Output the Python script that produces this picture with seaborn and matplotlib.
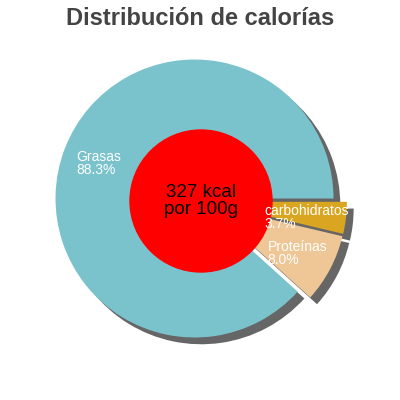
import matplotlib
matplotlib.use("Agg")
import matplotlib.pyplot as plt
import seaborn as sns
from matplotlib.patches import Shadow

sns.set_theme(style="white")
plt.rcParams['font.family'] = ['Liberation Sans', 'DejaVu Sans']

# datos
nutrientes = ["carbohidratos", "Proteínas", "Grasas"]
porcentajes = [3.7, 8.0, 88.3]
colores = ["#DAA520", "#EFC695", "#7AC3CC"]
titulo = "Distribución de calorías"
centro = "327 kcal\npor 100g"

# posicion de las etiquetas (unidades del radio)
pos_etiquetas = [(0.457, -0.02), (0.479, -0.28), (-0.9, 0.365)]

fig = plt.figure(figsize=(4, 4), dpi=100)
fig.patch.set_facecolor("white")
ax = fig.add_axes([0, 0, 1, 1])

r_px = 139.0
ax.set_aspect("equal")
ax.axis("off")

etiquetas = ["{}\n{:.1f}%".format(n, p) for n, p in zip(nutrientes, porcentajes)]
wedges, texts = ax.pie(
    porcentajes,
    labels=etiquetas,
    colors=colores,
    startangle=0,
    counterclock=False,
    explode=[0.05, 0.05, 0.05],
    shadow={'ox': 0.035, 'oy': -0.035},
    labeldistance=0.6,
    wedgeprops={'linewidth': 0},
    textprops={'color': 'white', 'fontsize': 10, 'linespacing': 0.92},
)
ax.set_xlim(-201 / r_px, 199 / r_px)
ax.set_ylim(-199 / r_px, 201 / r_px)

for p in ax.patches:
    if isinstance(p, Shadow):
        p.set_facecolor("#666666")
        p.set_edgecolor("none")
        p.set_alpha(1)

for t, (x, y) in zip(texts, pos_etiquetas):
    t.set_position((x, y))
    t.set_ha("left")
    t.set_va("top")
    t.set_zorder(5)

circulo = plt.Circle((0, 0), 71 / r_px, color="red", zorder=4)
ax.add_patch(circulo)
ax.text(0, 0, centro, ha="center", va="center", fontsize=13.5,
        color="black", linespacing=0.95, zorder=6)

fig.text(0.5, 0.953, titulo, ha="center", va="center", fontsize=17,
         fontweight="bold", color="#444444")

fig.savefig("out.png", dpi=100, facecolor="white")
